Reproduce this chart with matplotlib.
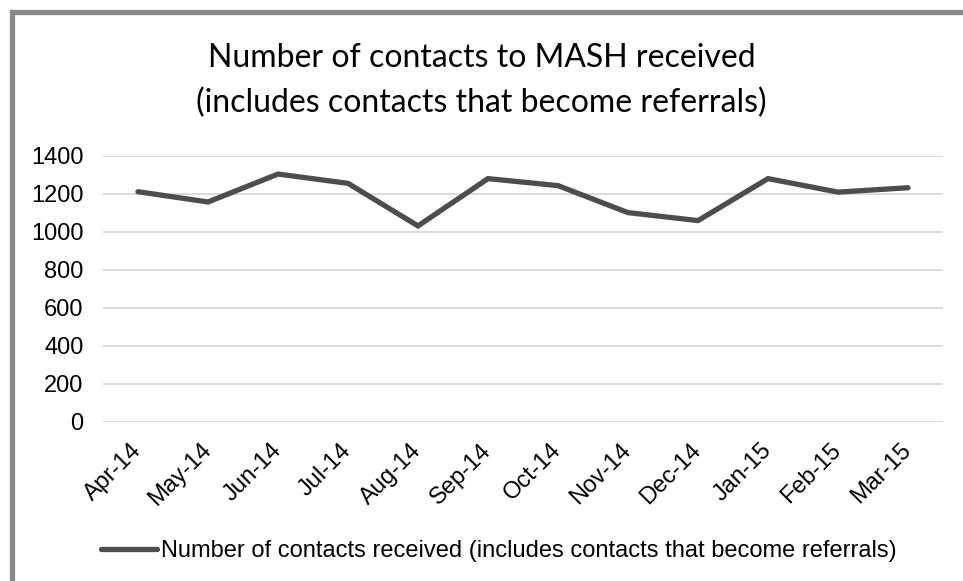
import matplotlib
matplotlib.use("Agg")
import matplotlib.pyplot as plt
from matplotlib.patches import Rectangle

months = ["Apr-14", "May-14", "Jun-14", "Jul-14", "Aug-14", "Sep-14",
          "Oct-14", "Nov-14", "Dec-14", "Jan-15", "Feb-15", "Mar-15"]
contacts = [1212, 1158, 1305, 1256, 1032, 1281, 1244, 1102, 1060, 1281, 1210, 1233]
yticks = [0, 200, 400, 600, 800, 1000, 1200, 1400]

W, H = 963, 581
fig = plt.figure(figsize=(W / 100, H / 100), dpi=100)
fig.patch.set_facecolor("white")

ax = fig.add_axes([103 / W, 1 - 422 / H, (943 - 103) / W, (422 - 156) / H])
x = list(range(len(months)))
line, = ax.plot(x, contacts, color="#4d4d4d", linewidth=3.8, solid_capstyle="round",
                solid_joinstyle="miter",
                label="Number of contacts received (includes contacts that become referrals)")
ax.set_xlim(-0.5, len(months) - 0.5)
ax.set_ylim(0, 1400)
ax.set_yticks(yticks)
ax.set_yticklabels([str(v) for v in yticks], fontsize=17, family="Liberation Sans")
ax.set_xticks(x)
ax.set_xticklabels(months, fontsize=17, family="Liberation Sans", rotation=45,
                   ha="right", va="center", rotation_mode="anchor")
ax.tick_params(axis="y", length=0, pad=14)
ax.tick_params(axis="x", length=0, pad=18)
ax.grid(axis="y", color="#d9d9d9", linewidth=1.3)
ax.set_axisbelow(True)
for s in ax.spines.values():
    s.set_visible(False)

fig.text(0.5, 1 - 67 / H, "Number of contacts to MASH received", ha="center", va="baseline",
         fontsize=23, family="Lato", color="#000000")
fig.text(0.5, 1 - 112 / H, "(includes contacts that become referrals)", ha="center", va="baseline",
         fontsize=23, family="Lato", color="#000000")

leg = fig.legend(handles=[line], loc="center", bbox_to_anchor=(499 / W, 1 - 551 / H),
                 frameon=False, prop={"family": "Liberation Sans", "size": 17},
                 handlelength=2.35, handletextpad=0.2, borderpad=0)

border = Rectangle((11.5 / W, -0.2), 1.2, 1 - 11.5 / H + 0.2, transform=fig.transFigure,
                   fill=False, edgecolor="#898989", linewidth=3.8, clip_on=False)
fig.patches.append(border)

fig.savefig("out.png", dpi=100)
